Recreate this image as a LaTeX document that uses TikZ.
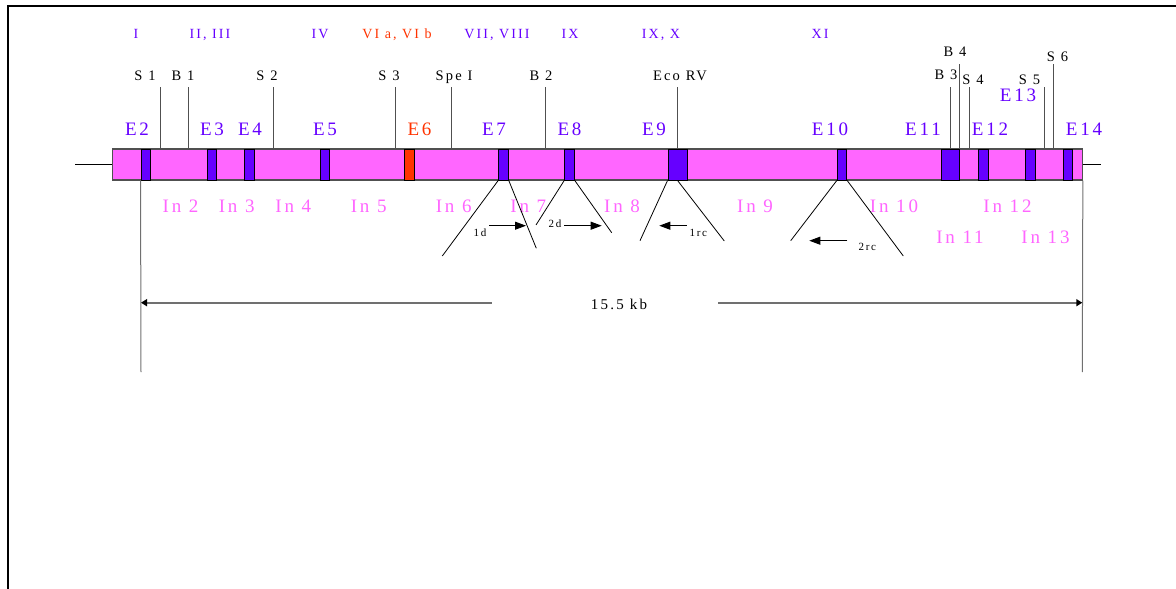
\documentclass[tikz,border=0pt]{standalone}
\usepackage{fontspec}
\setmainfont{Liberation Serif}
\newfontfamily\spacedserif[LetterSpace=15]{Liberation Serif}
\usetikzlibrary{arrows.meta}
\definecolor{exonc}{HTML}{6600FF}
\definecolor{intronc}{HTML}{FF66FF}
\definecolor{redexon}{HTML}{FF3300}
\definecolor{barline}{HTML}{505050}
\definecolor{dimline}{HTML}{707070}

\begin{document}
\begin{tikzpicture}[x=1pt,y=-1pt,
  exon/.style={draw=black, line width=0.9pt, fill=exonc, minimum height=31pt, inner sep=0pt},
  elabel/.style={text=exonc, font=\spacedserif\fontsize{19}{20}\selectfont, anchor=base, inner sep=0pt},
  inlabel/.style={text=intronc, font=\spacedserif\fontsize{19}{20}\selectfont, anchor=base, inner sep=0pt},
  sitelabel/.style={text=black, font=\spacedserif\fontsize{14.5}{16}\selectfont, anchor=base, inner sep=0pt},
  romanlabel/.style={text=exonc, font=\spacedserif\fontsize{14}{15}\selectfont, anchor=base, inner sep=0pt},
  primerlabel/.style={text=black, font=\spacedserif\fontsize{11}{12}\selectfont, anchor=base, inner sep=0pt},
  lengthlabel/.style={text=black, font=\spacedserif\fontsize{15}{16}\selectfont, anchor=base, inner sep=0pt},
  siteline/.style={draw=barline, line width=0.9pt},
  fanline/.style={draw=black, line width=0.8pt},
  primerarrow/.style={draw=black, line width=0.9pt, -{Triangle[length=11pt,width=8pt]}},
  dimarrow/.style={draw=dimline, line width=1.8pt, -{Triangle[length=6pt,width=7pt,color=black]}},
  dimtick/.style={draw=dimline, line width=1pt}]
\useasboundingbox (0,0) rectangle (1176,589);

% page frame (top and left edges)
\draw[line width=1.8pt] (1176,6.3) -- (8,6.3) -- (8,589);

% gene body
\node[draw=barline, line width=1.1pt, fill=intronc, minimum width=969.6pt, minimum height=31pt, inner sep=0pt] (bar) at (597.5,164.5) {};
\coordinate (stubL) at (75,164.5);
\coordinate (stubR) at (1100.7,164.5);
\draw[line width=0.9pt] (stubL) -- (bar.west);
\draw[line width=0.9pt] (bar.east) -- (stubR);

% exons
\node[exon, minimum width=9.7pt] (e2)  at (145.85,164.5) {};
\node[exon, minimum width=9.7pt] (e3)  at (211.85,164.5) {};
\node[exon, minimum width=9.6pt] (e4)  at (249.5,164.5) {};
\node[exon, minimum width=9.4pt] (e5)  at (325,164.5) {};
\node[exon, minimum width=9.3pt, fill=redexon] (e6) at (409.35,164.5) {};
\node[exon, minimum width=9.6pt] (e7)  at (503.5,164.5) {};
\node[exon, minimum width=9.6pt] (e8)  at (569.5,164.5) {};
\node[exon, minimum width=19pt]  (e9)  at (677.5,164.5) {};
\node[exon, minimum width=9.4pt] (e10) at (842,164.5) {};
\node[exon, minimum width=18.7pt] (e11) at (950.35,164.5) {};
\node[exon, minimum width=9.3pt] (e12) at (983.35,164.5) {};
\node[exon, minimum width=9.3pt] (e13) at (1030.35,164.5) {};
\node[exon, minimum width=9.4pt] (e14) at (1068,164.5) {};

% exon names
\node[elabel] (le2)  at (137,135) {E2};
\node[elabel] (le3)  at (212,135) {E3};
\node[elabel] (le4)  at (250,135) {E4};
\node[elabel] (le5)  at (325,135) {E5};
\node[elabel, text=redexon] (le6) at (419.5,135) {E6};
\node[elabel] (le7)  at (494,135) {E7};
\node[elabel] (le8)  at (569.5,135) {E8};
\node[elabel] (le9)  at (654,135) {E9};
\node[elabel] (le10) at (830,135) {E10};
\node[elabel] (le11) at (923,135) {E11};
\node[elabel] (le12) at (990,135) {E12};
\node[elabel] (le13) at (1018,101.7) {E13};
\node[elabel] (le14) at (1084,135) {E14};

% intron names
\node[inlabel] (i2)  at (180.5,212.3) {In 2};
\node[inlabel] (i3)  at (236.7,212.3) {In 3};
\node[inlabel] (i4)  at (293.3,212.3) {In 4};
\node[inlabel] (i5)  at (368.7,212.3) {In 5};
\node[inlabel] (i6)  at (453.7,212.3) {In 6};
\node[inlabel] (i7)  at (528.3,212.3) {In 7};
\node[inlabel] (i8)  at (622,212.3) {In 8};
\node[inlabel] (i9)  at (755,212.3) {In 9};
\node[inlabel] (i10) at (894,212.3) {In 10};
\node[inlabel] (i12) at (1007.5,212.3) {In 12};
\node[inlabel] (i11) at (960,243.3) {In 11};
\node[inlabel] (i13) at (1045.5,243.3) {In 13};

% mutation groups
\node[romanlabel] (r1)  at (136,38.3) {I};
\node[romanlabel] (r2)  at (210,38.3) {II, III};
\node[romanlabel] (r4)  at (320,38.3) {IV};
\node[romanlabel, text=redexon] (r6) at (397,38.3) {VI a, VI b};
\node[romanlabel] (r7)  at (497,38.3) {VII, VIII};
\node[romanlabel] (r9)  at (570,38.3) {IX};
\node[romanlabel] (r10) at (661,38.3) {IX, X};
\node[romanlabel] (r11) at (820,38.3) {XI};

% restriction sites
\node[sitelabel] (ls1)  at (145,80) {S 1};
\node[sitelabel] (lb1)  at (183,80) {B 1};
\node[sitelabel] (ls2)  at (267,80) {S 2};
\node[sitelabel] (ls3)  at (389,80) {S 3};
\node[sitelabel] (lspe) at (454,80) {Spe I};
\node[sitelabel] (lb2)  at (541,80) {B 2};
\node[sitelabel] (leco) at (680,80) {Eco RV};
\node[sitelabel] (lb3)  at (946,79.3) {B 3};
\node[sitelabel] (lb4)  at (955,56) {B 4};
\node[sitelabel] (ls4)  at (973,84) {S 4};
\node[sitelabel] (ls5)  at (1029.5,84) {S 5};
\node[sitelabel] (ls6)  at (1057.5,61.7) {S 6};

\coordinate (ts1)  at (160.3,87);
\coordinate (tb1)  at (188.3,87);
\coordinate (ts2)  at (273,87);
\coordinate (ts3)  at (395,87);
\coordinate (tspe) at (451.7,87);
\coordinate (tb2)  at (545.7,87);
\coordinate (teco) at (677.5,87);
\coordinate (tb3)  at (950.3,87);
\coordinate (tb4)  at (959.7,64);
\coordinate (ts4)  at (969,87);
\coordinate (ts5)  at (1044.3,87);
\coordinate (ts6)  at (1053.7,64);
\foreach \t in {ts1,tb1,ts2,ts3,tspe,tb2,teco,tb3,tb4,ts4,ts5,ts6}
  \draw[siteline] (\t) -- (\t |- bar.north);

% expanded exon regions
\coordinate (f7l)  at (442.3,256);
\coordinate (f7r)  at (536.3,248.3);
\coordinate (f8l)  at (536,225);
\coordinate (f8r)  at (611.7,232.7);
\coordinate (f9l)  at (640,240.7);
\coordinate (f9r)  at (724.3,241);
\coordinate (f10l) at (790.7,240.7);
\coordinate (f10r) at (903.3,256);
\draw[fanline] (e7.south west) -- (f7l);
\draw[fanline] (e7.south east) -- (f7r);
\draw[fanline] (e8.south west) -- (f8l);
\draw[fanline] (e8.south east) -- (f8r);
\draw[fanline] (e9.south west) -- (f9l);
\draw[fanline] (e9.south) -- (f9r);
\draw[fanline] (e10.south west) -- (f10l);
\draw[fanline] (e10.south east) -- (f10r);

% primers
\node[primerlabel] (p1d)  at (480,236.7) {1d};
\node[primerlabel] (p2d)  at (555,227.3) {2d};
\node[primerlabel] (p1rc) at (698.3,236) {1rc};
\node[primerlabel] (p2rc) at (867.3,250.7) {2rc};
\coordinate (a1s) at (489.3,225.7);
\coordinate (a1e) at (526,225.7);
\coordinate (a2s) at (564.3,225.7);
\coordinate (a2e) at (601.7,225.7);
\coordinate (a3s) at (686.7,225.7);
\coordinate (a3e) at (659.3,225.7);
\coordinate (a4s) at (847.3,240.7);
\coordinate (a4e) at (809.3,240.7);
\draw[primerarrow] (a1s) -- (a1e);
\draw[primerarrow] (a2s) -- (a2e);
\draw[primerarrow] (a3s) -- (a3e);
\draw[primerarrow] (a4s) -- (a4e);

% gene length
\coordinate (dl) at (141,372);
\coordinate (dr) at (1082.3,372);
\draw[dimtick] (e2.south west) -- (dl);
\draw[dimtick] (bar.south east) -- (dr);
\node[lengthlabel] (kb) at (619,309) {15.5 kb};
\coordinate (kbl) at (491.5,302.7);
\coordinate (kbr) at (718.4,302.7);
\coordinate (kbla) at (141,302.7);
\coordinate (kbra) at (1082.3,302.7);
\draw[dimarrow] (kbl) -- (kbla);
\draw[dimarrow] (kbr) -- (kbra);
\end{tikzpicture}
\end{document}
